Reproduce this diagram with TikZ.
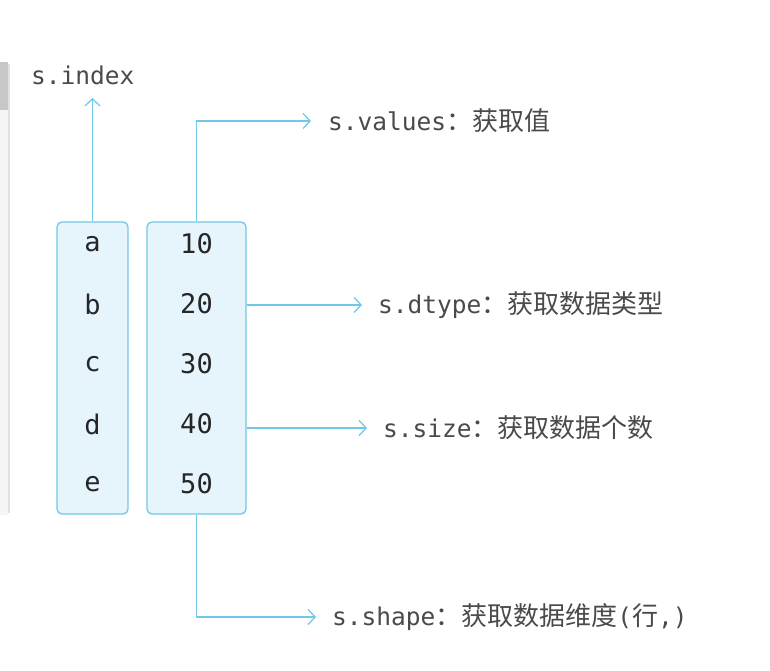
\documentclass[tikz,border=0pt]{standalone}
\usepackage{fontspec}
\setmonofont{DejaVu Sans Mono}
\newfontfamily\cjk{Noto Sans CJK SC}
\usetikzlibrary{arrows.meta}
\definecolor{linkblue}{HTML}{72C8E8}
\definecolor{cellfill}{HTML}{E6F5FC}
\definecolor{labelgray}{HTML}{4A4A4A}
\tikzset{
 cellbox/.style={draw=linkblue, fill=cellfill, line width=1.3pt, rounded corners=5pt, inner sep=0pt},
 cell/.style={font=\ttfamily\fontsize{27}{27}\selectfont, text=black!85},
 apilabel/.style={anchor=west, inner sep=0pt, text=labelgray, font=\ttfamily\fontsize{24.5}{24.5}\selectfont},
 link/.style={linkblue, line width=1.3pt, -{Straight Barb[length=7pt,width=15pt]}},
}
\newcommand{\zh}[1]{{\cjk\fontsize{26}{26}\selectfont #1}}

\begin{document}
\begin{tikzpicture}[x=1pt, y=-1pt]
\useasboundingbox (0,0) rectangle (770,671);
% side panel of the screenshot
\fill[black!4] (-10,62) rectangle (8,515);
\fill[black!22] (-10,62) rectangle (8,110);
\draw[black!12, line width=2pt] (9,64) -- (9,513);

\node[cellbox, minimum width=71pt, minimum height=292pt] (idxbox) at (92.5,368) {};
\node[cellbox, minimum width=99pt, minimum height=292pt] (valbox) at (196.5,368) {};
\foreach \l/\v [count=\i] in {a/10, b/20, c/30, d/40, e/50} {
 \node[cell] (idx\i) at (92.5,184+60*\i) {\l};
 \node[cell] (val\i) at (196.5,184+60*\i) {\v};
}

\node[apilabel] (index) at (31,75) {s.index};
\node[apilabel] (values) at (328,121) {s.values\zh{：获取值}};
\node[apilabel] (dtype) at (378,305) {s.dtype\zh{：获取数据类型}};
\node[apilabel] (size) at (383,428) {s.size\zh{：获取数据个数}};
\node[apilabel] (shape) at (332,617) {s.shape\zh{：获取数据维度}(\zh{行},)};

\draw[link] (idxbox.north) -- (idxbox.north |- 0,98);
\draw[link, shorten >=17pt] (valbox.north) |- (values.west);
\draw[link, shorten >=16pt] (valbox.east |- dtype.west) -- (dtype.west);
\draw[link, shorten >=16pt] (valbox.east |- size.west) -- (size.west);
\draw[link, shorten >=16pt] (valbox.south) |- (shape.west);
\end{tikzpicture}
\end{document}
